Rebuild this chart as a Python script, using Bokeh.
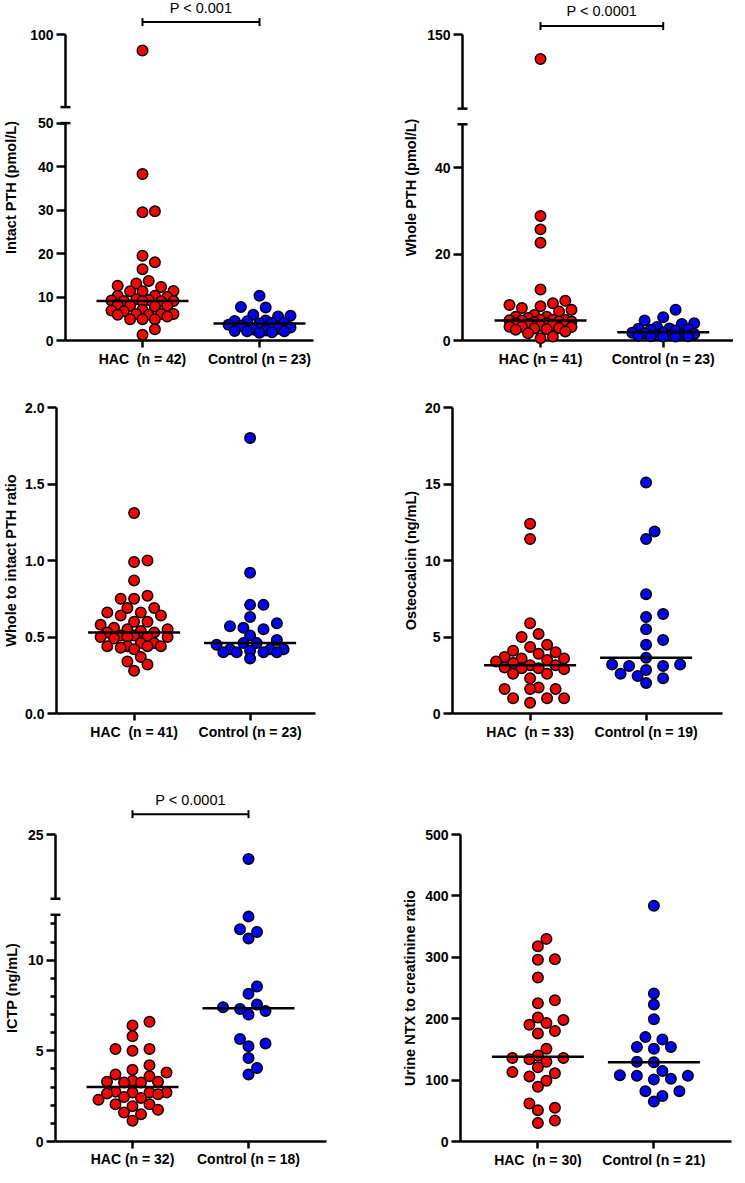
import numpy as np
from bokeh.plotting import figure
from bokeh.layouts import column, row
from bokeh.models import Range1d, FixedTicker
from bokeh.embed import file_html
from bokeh.resources import INLINE
from bokeh.core.properties import value

# ---------------- data ----------------
groups = ["HAC", "Control"]

intact_hac = [89, 38.3, 29.7, 29.5, 19.5, 18.0, 16.4, 13.7, 13.1, 12.6, 12.3, 11.4, 11.3, 11.3,
              10.3, 10.3, 10.0, 9.5, 9.3, 9.2, 9.1, 9.1, 9.0, 9.0, 8.2, 8.0, 8.0, 7.8, 7.1, 6.9,
              6.7, 6.1, 6.1, 6.1, 5.9, 5.9, 5.5, 4.9, 4.9, 4.9, 2.6, 1.3]
intact_ctrl = [10.3, 7.7, 7.6, 5.9, 5.7, 5.5, 4.6, 4.5, 4.4, 4.1, 4.0, 3.9, 3.6, 3.4, 3.0, 2.7,
               2.5, 2.3, 2.2, 2.1, 2.1, 1.9, 1.8]

whole_hac = [117, 28.8, 25.7, 22.6, 11.8, 9.2, 8.6, 8.2, 7.9, 7.5, 7.1, 6.7, 5.9, 5.5, 5.5, 5.2,
             4.8, 4.8, 4.8, 4.7, 4.6, 4.4, 4.4, 4.2, 4.0, 4.0, 3.8, 3.6, 3.6, 3.4, 3.2, 3.2, 3.1,
             2.9, 2.8, 2.6, 2.5, 2.1, 1.7, 0.9, 0.5]
whole_ctrl = [7.1, 5.4, 4.6, 4.0, 3.8, 3.1, 2.8, 2.7, 2.6, 2.5, 2.3, 1.9, 1.8, 1.7, 1.5, 1.3, 1.3,
              1.2, 1.1, 1.0, 1.0, 0.9, 0.9]

ratio_hac = [1.31, 1.00, 0.99, 0.87, 0.77, 0.75, 0.75, 0.69, 0.69, 0.66, 0.66, 0.64, 0.64, 0.60,
             0.60, 0.58, 0.56, 0.55, 0.55, 0.54, 0.53, 0.53, 0.51, 0.51, 0.50, 0.50, 0.50, 0.50,
             0.49, 0.46, 0.46, 0.44, 0.44, 0.44, 0.44, 0.43, 0.42, 0.37, 0.34, 0.32, 0.28]
ratio_ctrl = [1.80, 0.92, 0.71, 0.71, 0.63, 0.59, 0.57, 0.56, 0.55, 0.51, 0.48, 0.46, 0.46, 0.45,
              0.42, 0.42, 0.42, 0.41, 0.40, 0.40, 0.40, 0.40, 0.36]

osteo_hac = [12.4, 11.4, 5.9, 5.2, 5.0, 4.5, 4.35, 4.1, 4.0, 3.9, 3.7, 3.6, 3.6, 3.5, 3.4, 3.3,
             3.15, 3.15, 3.0, 2.95, 2.95, 2.9, 2.6, 2.6, 2.3, 1.7, 1.6, 1.6, 1.6, 1.0, 1.0, 1.0, 0.7]
osteo_ctrl = [15.1, 11.9, 11.4, 7.8, 6.5, 6.3, 5.5, 4.8, 4.5, 3.65, 3.2, 3.2, 3.1, 3.1, 2.85,
              2.6, 2.45, 2.3, 2.0]

ictp_hac = [6.6, 6.4, 5.8, 5.1, 5.1, 5.0, 4.2, 3.95, 3.8, 3.7, 3.6, 3.35, 3.3, 3.3, 3.25, 3.25,
            2.75, 2.7, 2.7, 2.7, 2.65, 2.6, 2.45, 2.4, 2.3, 2.05, 2.05, 1.95, 1.75, 1.6, 1.5, 1.15]
ictp_ctrl = [21.2, 12.4, 11.7, 11.55, 11.2, 8.55, 8.15, 7.55, 7.4, 7.3, 7.2, 7.0, 5.65, 5.4,
             5.25, 4.6, 4.05, 3.7]

ntx_hac = [330, 318, 297, 296, 267, 230, 225, 202, 198, 193, 190, 180, 176, 151, 140, 136, 136,
           134, 130, 121, 113, 111, 106, 99, 89, 62, 55, 51, 34, 30]
ntx_ctrl = [384, 241, 223, 199, 170, 166, 154, 154, 151, 130, 129, 115, 108, 107, 107, 102, 101,
            82, 82, 74, 65]

intact_ticks = [0, 10, 20, 30, 40, 50, 100]
whole_ticks = [0, 20, 40, 150]
ratio_ticks = [0.0, 0.5, 1.0, 1.5, 2.0]
osteo_ticks = [0, 5, 10, 15, 20]
ictp_ticks = [0, 5, 10, 25]
ictp_minor = [1, 2, 3, 4, 6, 7, 8, 9, 11, 12]
ntx_ticks = [0, 100, 200, 300, 400, 500]

# ---------------- style ----------------
FONT = "Liberation Sans"
RED = "#ff0000"
BLUE = "#0000ff"
LW = 2.5
MSIZE = 10.5


def swarm(ypx, step, maxw=34.0, dmin=10.0):
    """Column-scatter layout on a horizontal grid of `step` px, at most `maxw` px from centre;
    overlaps only when the column is full."""
    ypx = np.asarray(ypx, float)
    nslot = int(np.floor(maxw / step + 1e-6))
    order = np.argsort(ypx, kind="stable")
    xs = np.zeros(len(ypx))
    px, py = [], []
    for i in order:
        y = ypx[i]
        near = [(a, b) for a, b in zip(px, py) if abs(b - y) < dmin]
        bias = sum(a for a, _ in near)
        cands = [0.0]
        for m in range(1, nslot + 1):
            a, b = m * step, -m * step
            cands += [b, a] if bias > 0 else [a, b]
        best, best_d = None, -1.0
        for c in cands:
            d = min([np.hypot(c - a, y - b) for a, b in near], default=1e9)
            if d >= dmin:
                best = c
                break
            if d > best_d + 1e-9:
                best, best_d = c, d
        xs[i] = best
        px.append(best)
        py.append(y)
    return xs


def fmt(v, dec):
    return f"{v:.{dec}f}"


def panel(spec):
    bl, fw, br, bt, fh, bb = spec["box"]
    a, sp = spec["cat"]
    segs = spec["segs"]

    def T(v):
        for (v0, v1, f0, f1) in segs:
            if v0 <= v <= v1:
                return f0 + (v - v0) / (v1 - v0) * (f1 - f0)
        return segs[0][3]

    x0 = 1 - a / sp
    x1 = x0 + fw / sp
    p = figure(width=bl + fw + br, height=bt + fh + bb, frame_width=fw, frame_height=fh,
               min_border_left=bl, min_border_right=br, min_border_top=bt, min_border_bottom=bb,
               toolbar_location=None, output_backend="svg", title=None,
               x_range=Range1d(x0, x1), y_range=Range1d(0, 1))
    p.xgrid.visible = False
    p.ygrid.visible = False
    p.outline_line_color = None
    p.background_fill_color = "white"
    p.border_fill_color = "white"

    xa = p.xaxis[0]
    ya = p.yaxis[0]
    for ax in (xa, ya):
        ax.axis_line_width = LW
        ax.axis_line_color = "black"
        ax.major_tick_line_width = LW
        ax.minor_tick_line_width = LW
        ax.major_tick_line_color = "black"
        ax.major_tick_in = 0
        ax.minor_tick_in = 0
        ax.major_label_text_font = FONT
        ax.major_label_text_font_style = "bold"
        ax.major_label_text_font_size = "14px"
        ax.major_label_text_color = "black"
        ax.axis_label_text_font = FONT
        ax.axis_label_text_font_style = "bold"
        ax.axis_label_text_font_size = "14.5px"
        ax.axis_label_text_color = "black"

    hac, ctrl = spec["data"]
    sep = spec["sep"]
    xa.ticker = FixedTicker(ticks=[1, 2])
    xa.major_label_overrides = {1: f"{groups[0]}{sep}(n = {len(hac)})",
                                2: f"{groups[1]} (n = {len(ctrl)})"}
    xa.major_tick_out = 7
    xa.major_label_standoff = spec.get("xstand", 3)
    xa.minor_tick_line_color = None

    tick_pos = [T(v) for v in spec["ticks"]]
    minor_pos = [T(v) for v in spec.get("minor", [])]
    ya.ticker = FixedTicker(ticks=tick_pos, minor_ticks=minor_pos)
    ya.major_label_overrides = {t: fmt(v, spec["dec"]) for t, v in zip(tick_pos, spec["ticks"])}
    ya.major_tick_out = 9
    ya.minor_tick_out = 5
    ya.minor_tick_line_color = "black" if minor_pos else None
    ya.major_label_standoff = 3
    ya.axis_label = spec["ylabel"]
    ya.axis_label_standoff = int(round(spec["s2"]))

    # broken axis: draw the axis rule per segment, with end caps at the break
    if len(segs) > 1:
        ya.axis_line_color = None
        dx = 5 * (x1 - x0) / fw
        for (v0, v1, f0, f1) in segs:
            p.segment(x0=[x0], y0=[f0], x1=[x0], y1=[f1], line_width=LW, color="black",
                      level="overlay")
        caps = [segs[0][3], segs[1][2]]
        p.segment(x0=[x0 - dx] * 2, x1=[x0 + dx] * 2, y0=caps, y1=caps, line_width=LW,
                  color="black", level="overlay")

    # points (column scatter computed in pixel space) and medians
    for k, (vals, color) in enumerate([(hac, RED), (ctrl, BLUE)]):
        c = k + 1
        fv = np.array([T(v) for v in vals])
        xo = swarm(fv * fh, spec["step"])
        p.scatter(x=c + xo / sp, y=fv, size=MSIZE, fill_color=color, line_color="black",
                  line_width=1.5, level="overlay")
    for k, vals in enumerate([hac, ctrl]):
        c = k + 1
        m = T(float(np.median(vals)))
        p.segment(x0=[c - 46 / sp], x1=[c + 46 / sp], y0=[m], y1=[m], line_width=LW,
                  color="black", level="overlay")

    # significance bracket
    if spec.get("pval"):
        txt, bpx, tpx = spec["pval"]
        yb = 1 + bpx / fh
        yt = 1 + tpx / fh
        cap = 4 / fh
        p.segment(x0=[1], x1=[2], y0=[yb], y1=[yb], line_width=2, color="black", level="overlay")
        p.segment(x0=[1, 2], x1=[1, 2], y0=[yb - cap] * 2, y1=[yb + cap] * 2, line_width=2,
                  color="black", level="overlay")
        p.text(x=[1.5], y=[yt], text=[txt], text_align="center", text_baseline="middle",
               text_font=value(FONT), text_font_size="14.5px", text_color="black",
               level="overlay")
    return p


specs = [
    dict(data=(intact_hac, intact_ctrl), ylabel="Intact PTH (pmol/L)", sep="\u00a0 ",
         box=(61, 248, 63, 34, 306, 35), cat=(77, 117), s2=8, dec=0, step=6.2,
         segs=[(0, 50, 0, 0.7105), (50, 100, 0.7627, 1.0)], ticks=intact_ticks,
         pval=("P < 0.001", 12.4, 26.4)),
    dict(data=(whole_hac, whole_ctrl), ylabel="Whole PTH (pmol/L)", sep=" ",
         box=(86, 271, 0, 30, 306, 39), cat=(78, 122.7), s2=5, dec=0, step=6.2,
         segs=[(0, 50, 0, 0.7065), (50, 150, 0.7577, 1.0)], ticks=whole_ticks,
         pval=("P < 0.0001", 8.4, 23.4)),
    dict(data=(ratio_hac, ratio_ctrl), ylabel="Whole to intact PTH ratio", sep="\u00a0 ",
         box=(52, 259, 61, 32, 306, 62), cat=(77.6, 116), s2=3, dec=1, step=6.7,
         segs=[(0, 2.0, 0, 1.0)], ticks=ratio_ticks),
    dict(data=(osteo_hac, osteo_ctrl), ylabel="Osteocalcin (ng/mL)", sep="\u00a0 ",
         box=(76, 270, 11, 32, 306, 62), cat=(77.6, 116), s2=3, dec=0, step=8.5,
         segs=[(0, 20, 0, 1.0)], ticks=osteo_ticks),
    dict(data=(ictp_hac, ictp_ctrl), ylabel="ICTP (ng/mL)", sep=" ",
         box=(50, 271, 51, 59, 307, 26), cat=(77, 116), s2=5, dec=0, xstand=2, step=8.5,
         segs=[(0, 12.5, 0, 0.7384), (15, 25, 0.7906, 1.0)], ticks=ictp_ticks, minor=ictp_minor,
         pval=("P < 0.0001", 20.3, 34.7)),
    dict(data=(ntx_hac, ntx_ctrl), ylabel="Urine NTX to creatinine ratio", sep="\u00a0 ",
         box=(83, 271, 3, 25, 307, 60), cat=(77.4, 116), s2=4, dec=0, step=8.5,
         segs=[(0, 500, 0, 1.0)], ticks=ntx_ticks),
]

figs = [panel(s) for s in specs]
layout = column(row(figs[0], figs[1]), row(figs[2], figs[3]), row(figs[4], figs[5]))

with open("out.html", "w") as f:
    f.write(file_html(layout, INLINE))
